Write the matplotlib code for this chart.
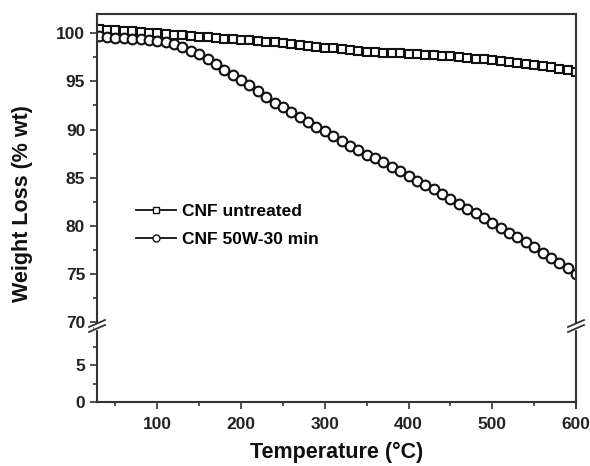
import numpy as np
import matplotlib.pyplot as plt
from matplotlib.lines import Line2D
from matplotlib.ticker import MultipleLocator

plt.rcParams['font.family'] = ['Liberation Sans', 'DejaVu Sans']
plt.rcParams['font.weight'] = 'bold'

# temperature (C), one marker every 10 degrees
temp = list(range(30, 601, 10))

untreated = [100.4, 100.35, 100.3, 100.25, 100.2, 100.1, 100.05, 100.0, 99.9, 99.85,
             99.8, 99.7, 99.65, 99.6, 99.5, 99.45, 99.4, 99.3, 99.25, 99.2,
             99.1, 99.05, 99.0, 98.9, 98.8, 98.7, 98.6, 98.5, 98.45, 98.35,
             98.3, 98.2, 98.1, 98.05, 98.0, 97.95, 97.9, 97.85, 97.8, 97.75,
             97.7, 97.65, 97.6, 97.5, 97.4, 97.35, 97.3, 97.2, 97.1, 97.0,
             96.9, 96.8, 96.7, 96.6, 96.45, 96.3, 96.15, 96.0]

treated = [99.7, 99.6, 99.55, 99.5, 99.45, 99.4, 99.3, 99.2, 99.05, 98.85,
           98.55, 98.2, 97.8, 97.3, 96.8, 96.2, 95.7, 95.1, 94.6, 94.0,
           93.4, 92.8, 92.3, 91.8, 91.3, 90.8, 90.3, 89.8, 89.3, 88.8,
           88.3, 87.9, 87.4, 87.0, 86.6, 86.1, 85.7, 85.2, 84.7, 84.2,
           83.8, 83.3, 82.8, 82.3, 81.8, 81.3, 80.8, 80.3, 79.8, 79.3,
           78.8, 78.3, 77.8, 77.2, 76.7, 76.1, 75.6, 75.0]

labels = ['CNF untreated', 'CNF 50W-30 min']

fig = plt.figure(figsize=(5.9, 4.66), dpi=100)
left, right = 97 / 590, 576 / 590
y_bot, y_brk, y_top = 1 - 402 / 466, 1 - 326 / 466, 1 - 14 / 466
ax_lo = fig.add_axes([left, y_bot, right - left, y_brk - y_bot])
ax_hi = fig.add_axes([left, y_brk, right - left, y_top - y_brk], sharex=ax_lo)

for ax in (ax_hi, ax_lo):
    ax.plot(temp, untreated, ls='none', marker='s', ms=6.2, mfc='white', mec='#111111', mew=1.5)
    ax.plot(temp, treated, ls='none', marker='o', ms=7, mfc='white', mec='#111111', mew=1.5)
    for s in ax.spines.values():
        s.set_linewidth(1.5)
        s.set_color('#333333')
    ax.tick_params(axis='y', which='both', left=True, right=True, direction='out',
                   labelsize=12.5, width=1.2, colors='#333333', labelcolor='#222222')
    ax.tick_params(axis='y', which='major', length=5)
    ax.tick_params(axis='y', which='minor', length=3)
    ax.yaxis.set_minor_locator(MultipleLocator(2.5))

ax_hi.set_ylim(69.6, 102)
ax_hi.set_yticks([70, 75, 80, 85, 90, 95, 100])
ax_hi.spines['bottom'].set_visible(False)
ax_hi.tick_params(axis='x', which='both', bottom=False, top=False, labelbottom=False)

ax_lo.set_ylim(0, 10.3)
ax_lo.set_yticks([0, 5])
ax_lo.spines['top'].set_visible(False)
ax_lo.set_xlim(28, 600)
ax_lo.set_xticks([100, 200, 300, 400, 500, 600])
ax_lo.xaxis.set_minor_locator(MultipleLocator(50))
ax_lo.tick_params(axis='x', which='both', direction='out', top=False, labelsize=12.5,
                  width=1.2, pad=6, colors='#333333', labelcolor='#222222')
ax_lo.tick_params(axis='x', which='major', length=5)
ax_lo.tick_params(axis='x', which='minor', length=3)
ax_lo.set_xlabel('Temperature (°C)', fontsize=15.5, fontweight='bold', labelpad=7,
                 color='#111111')

# right-side ticks point inward
for ax in (ax_hi, ax_lo):
    for t in ax.yaxis.get_major_ticks() + ax.yaxis.get_minor_ticks():
        t.tick2line.set_marker(3)

fig.text(0.038, (y_bot + y_top) / 2 + 0.01, 'Weight Loss (% wt)', rotation=90, va='center',
         ha='center', fontsize=15.5, fontweight='bold', color='#111111')

# break marks on both vertical spines
for xf in (left, right):
    xp = xf * 590
    yp = 326
    fig.patches.append(plt.Rectangle(((xp - 3) / 590, 1 - (yp + 2.5) / 466), 6 / 590, 5 / 466,
                                     transform=fig.transFigure, color='white', zorder=5))
    for dy in (-2.5, 2.5):
        fig.add_artist(Line2D([(xp - 8) / 590, (xp + 8) / 590],
                              [1 - (yp + dy + 3.5) / 466, 1 - (yp + dy - 3.5) / 466],
                              color='#333333', lw=1.3, zorder=6))

handles = [
    Line2D([], [], color='#111111', lw=1.3, marker='s', ms=4.5, mfc='white', mec='#111111'),
    Line2D([], [], color='#111111', lw=1.3, marker='o', ms=5, mfc='white', mec='#111111'),
]
ax_hi.legend(handles, labels, loc='upper left', bbox_to_anchor=(0.048, 0.44), frameon=False,
             handlelength=2.3, handletextpad=0.35, labelspacing=0.7,
             prop={'weight': 'bold', 'size': 12.5})

fig.savefig('out.png', dpi=100)
